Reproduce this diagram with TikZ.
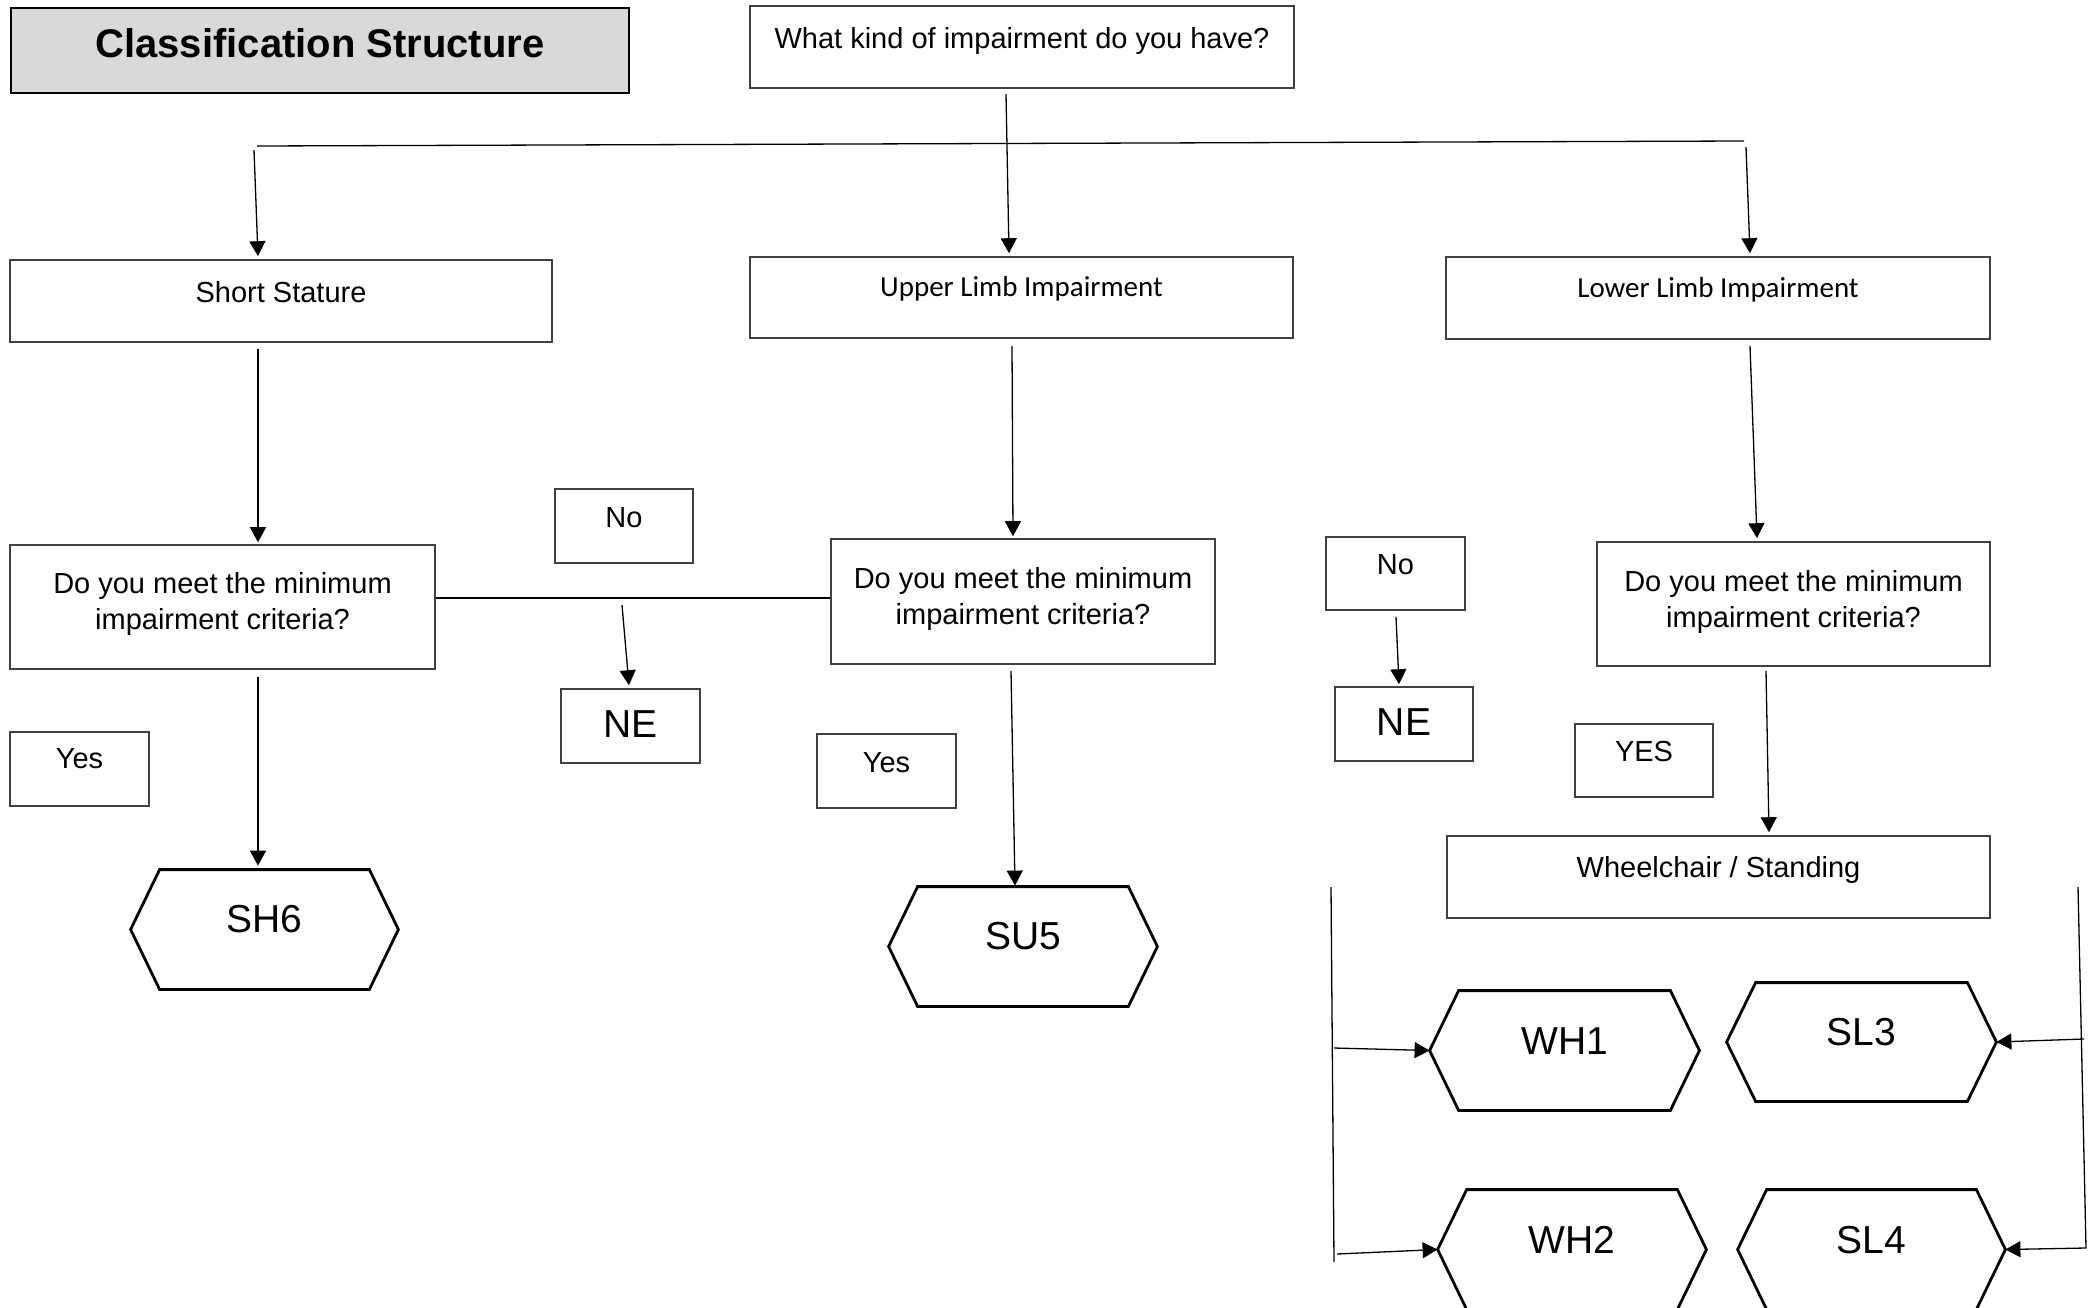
\documentclass[tikz,border=0pt]{standalone}
\usepackage{fontspec}
\setmainfont{Liberation Sans}
\newfontfamily\calibrifont{Carlito}
\usetikzlibrary{arrows.meta}
\tikzset{
  box/.style={draw=black!75, line width=0.8pt, inner sep=0pt, fill=white,
    font=\fontsize{14.5pt}{18pt}\selectfont, text height=10pt},
  bigbox/.style={box, font=\fontsize{19.5pt}{23pt}\selectfont, text height=14pt},
  calfont/.style={font=\calibrifont\fontsize{14.5pt}{18pt}\selectfont},
  hexnode/.style={inner sep=0pt, font=\fontsize{19.5pt}{23pt}\selectfont, text height=14pt},
  hexline/.style={draw=black, line width=1.4pt, line join=miter},
  conn/.style={draw=black, line width=0.65pt, -{Triangle[length=7.5pt,width=8pt]}},
  plain/.style={draw=black, line width=0.65pt},
}
\newcommand{\hexoutline}[1]{\draw[hexline] (#1.north west) -- (#1.north east) -- ([xshift=14.5pt]#1.east) -- (#1.south east) -- (#1.south west) -- ([xshift=-14.5pt]#1.west) -- cycle;}
\begin{document}
\begin{tikzpicture}[x=0.5pt,y=-0.5pt]
\useasboundingbox (0,0) rectangle (2098,1307);
\fill[white] (0,0) rectangle (2098,1307);
\clip (0,0) rectangle (2098,1307);

% title
\node[box, draw=black, fill=black!15, minimum width=309pt, minimum height=42.5pt,
  font=\bfseries\fontsize{20pt}{24pt}\selectfont, text height=14pt, text depth=7.5pt]
  (title) at (320,50.5) {Classification Structure};

% boxes
\node[box, minimum width=272pt, minimum height=41pt, text depth=9pt] (q0) at (1022,47) {What kind of impairment do you have?};
\node[box, minimum width=271pt, minimum height=41pt, text depth=9pt] (ss) at (281,301) {Short Stature};
\node[box, calfont, minimum width=271.5pt, minimum height=40.5pt, text depth=11.5pt] (ul) at (1021.5,297.5) {Upper Limb Impairment};
\node[box, calfont, minimum width=272pt, minimum height=41pt, text depth=11pt] (ll) at (1718,298) {Lower Limb Impairment};

\node[box, minimum width=212.5pt, minimum height=62pt, text depth=24pt] (q1) at (222.5,607)
  {\begin{tabular}[t]{@{}c@{}}Do you meet the minimum\\impairment criteria?\end{tabular}};
\node[box, minimum width=192pt, minimum height=62.5pt, text depth=23.5pt] (q2) at (1023,601.5)
  {\begin{tabular}[t]{@{}c@{}}Do you meet the minimum\\impairment criteria?\end{tabular}};
\node[box, minimum width=196.5pt, minimum height=62pt, text depth=23pt] (q3) at (1793.5,604)
  {\begin{tabular}[t]{@{}c@{}}Do you meet the minimum\\impairment criteria?\end{tabular}};

\node[box, minimum width=69pt, minimum height=37pt, text depth=9pt] (noL) at (624,526) {No};
\node[bigbox, minimum width=69.5pt, minimum height=37pt, text depth=3pt] (neL) at (630.5,726) {NE};
\node[box, minimum width=69.5pt, minimum height=37pt, text depth=11pt] (yesL) at (79.5,769) {Yes};
\node[box, minimum width=69.5pt, minimum height=37pt, text depth=9pt] (yesM) at (886.5,771) {Yes};
\node[box, minimum width=69.5pt, minimum height=36.5pt, text depth=9.5pt] (noR) at (1395.5,573.5) {No};
\node[bigbox, minimum width=69pt, minimum height=37pt, text depth=3pt] (neR) at (1404,724) {NE};
\node[box, minimum width=69pt, minimum height=36.5pt, text depth=9.5pt] (yesR) at (1644,760.5) {YES};
\node[box, minimum width=271.5pt, minimum height=41pt, text depth=10pt] (wc) at (1718.5,877) {Wheelchair / Standing};

% hexagons
\node[hexnode, minimum width=104.5pt, minimum height=59.5pt, text depth=11.5pt] (sh6) at (264.5,929.5) {SH6};
\node[hexnode, minimum width=105pt, minimum height=59.5pt, text depth=11.5pt] (su5) at (1023,946.5) {SU5};
\node[hexnode, minimum width=105.5pt, minimum height=59.5pt, text depth=10.5pt] (wh1) at (1564.5,1050.5) {WH1};
\node[hexnode, minimum width=105.5pt, minimum height=59pt, text depth=11pt] (sl3) at (1861.5,1042) {SL3};
\node[hexnode, minimum width=105pt, minimum height=59.5pt, text depth=10.5pt] (wh2) at (1572,1249.5) {WH2};
\node[hexnode, minimum width=104.5pt, minimum height=59.5pt, text depth=10.5pt] (sl4) at (1871.5,1249.5) {SL4};
\hexoutline{sh6}
\hexoutline{su5}
\hexoutline{wh1}
\hexoutline{sl3}
\hexoutline{wh2}
\hexoutline{sl4}

% connectors
\coordinate (bl) at (257,146);
\coordinate (br) at (1744,141);
\draw[plain] (bl) -- (br);
\coordinate (bls) at (254,150);
\coordinate (brs) at (1746,147);
\draw[conn] ([xshift=-8pt,yshift=-2.5pt]q0.south) -- ([xshift=-6.25pt,yshift=1.5pt]ul.north);
\draw[conn] (bls) -- ([xshift=-11.5pt,yshift=1.5pt]ss.north);
\draw[conn] (brs) -- ([xshift=16pt,yshift=1.5pt]ll.north);

\draw[conn] ([xshift=-11.5pt,yshift=-3pt]ss.south) -- ([xshift=17.75pt,yshift=1pt]q1.north);
\draw[conn] ([xshift=-4.75pt,yshift=-3.5pt]ul.south) -- ([xshift=-5pt,yshift=1pt]q2.north);
\draw[conn] ([xshift=16pt,yshift=-3pt]ll.south) -- ([xshift=-18.25pt,yshift=1.5pt]q3.north);

\draw[plain] ([yshift=4.5pt]q1.east) -- ([yshift=1.75pt]q2.west);
\coordinate (nes) at (622,605);
\draw[conn] (nes) -- ([xshift=-0.75pt,yshift=1.5pt]neL.north);
\draw[conn] ([xshift=0.25pt,yshift=-3pt]noR.south) -- ([xshift=-2.5pt,yshift=1pt]neR.north);

\draw[conn] ([xshift=17.75pt,yshift=-3.5pt]q1.south) -- ([xshift=-3.25pt,yshift=2pt]sh6.north);
\draw[conn] ([xshift=-6pt,yshift=-3pt]q2.south) -- ([xshift=-4pt,yshift=0.5pt]su5.north);
\draw[conn] ([xshift=-13.75pt,yshift=-2pt]q3.south) -- ([xshift=25.25pt,yshift=1.5pt]wc.north);

\coordinate (vl1) at (1331,887);
\coordinate (vl2) at (1334,1262);
\draw[plain] (vl1) -- (vl2);
\coordinate (vr1) at (2078,887);
\coordinate (vr2) at (2086,1248);
\draw[conn] (vr1) -- (vr2) -- ([xshift=14.5pt]sl4.east);
\coordinate (w1s) at (1334,1048);
\draw[conn] (w1s) -- ([xshift=-14.5pt]wh1.west);
\coordinate (w2s) at (1337,1254);
\draw[conn] (w2s) -- ([xshift=-14.5pt]wh2.west);
\coordinate (s3s) at (2084,1039);
\draw[conn] (s3s) -- ([xshift=14.5pt]sl3.east);
\end{tikzpicture}
\end{document}
